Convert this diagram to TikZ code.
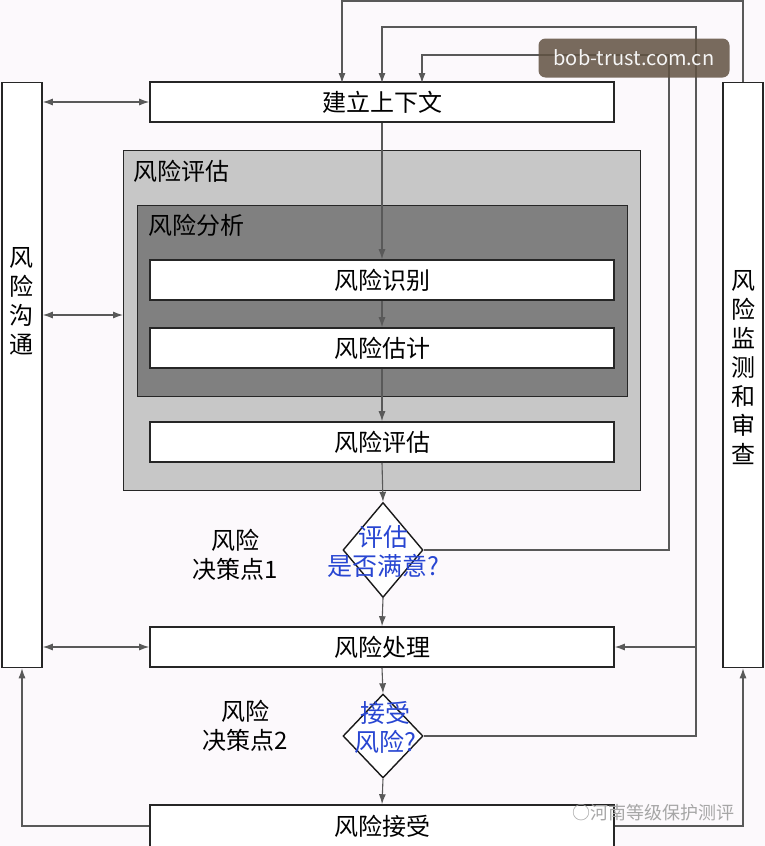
\documentclass[tikz,border=0pt]{standalone}
\usepackage{fontspec}
\setmainfont{Noto Sans CJK SC}
\usetikzlibrary{shapes.geometric,arrows.meta}
\begin{document}
\begin{tikzpicture}[x=1pt,y=-1pt,
  box/.style={draw=black!85,line width=1.6pt,fill=white,minimum width=464pt,minimum height=40pt,font=\fontsize{24}{26}\selectfont,inner sep=0pt},
  vbox/.style={draw=black!85,line width=1.6pt,fill=white,minimum width=40pt,minimum height=585pt,inner sep=0pt},
  dia/.style={diamond,draw=black!90,line width=1.4pt,fill=white,minimum width=80pt,minimum height=95pt,inner sep=0pt},
  ln/.style={draw=black!65,line width=1.1pt},
  arr/.style={ln,-{Latex[length=10pt,width=7pt]}},
  darr/.style={ln,{Latex[length=10pt,width=7pt]}-{Latex[length=10pt,width=7pt]}},
  lab/.style={font=\fontsize{24}{29}\selectfont,align=center},
  blue/.style={text={rgb,255:red,40;green,70;blue,210},font=\fontsize{25}{29}\selectfont,align=center}]
\fill[fill={rgb,255:red,252;green,249;blue,252}] (0,0) rectangle (765,846);
\useasboundingbox (0,0) rectangle (765,846);
% assessment frames
\node[draw=black!85,line width=1.4pt,fill=black!22,minimum width=517pt,minimum height=340pt,anchor=north west,inner sep=0pt] (ra) at (123,150) {};
\node[anchor=north west,font=\fontsize{24}{26}\selectfont] at (130,157) {风险评估};
\node[draw=black!85,line width=1.4pt,fill=black!50,minimum width=490pt,minimum height=191pt,anchor=north west,inner sep=0pt] (an) at (137,205) {};
\node[anchor=north west,font=\fontsize{24}{26}\selectfont] at (145,211) {风险分析};
% boxes
\node[box] (ctx) at (382,102) {建立上下文};
\node[box] (id) at (382,280) {风险识别};
\node[box] (est) at (382,348) {风险估计};
\node[box] (ev) at (382,442) {风险评估};
\node[box] (tr) at (382,647) {风险处理};
\node[box,minimum height=42pt] (acc) at (382,826) {风险接受};
\node[vbox] (com) at (22,375) {};
\node[lab,text width=26pt] at (22,301) {风\\险\\沟\\通};
\node[vbox] (mon) at (743,375) {};
\node[lab,text width=26pt] at (743,368) {风\\险\\监\\测\\和\\审\\查};
\node[dia] (d1) at (383,550) {};
\node[blue] at (383,552) {评估\\是否满意?};
\node[dia,minimum height=84pt] (d2) at (383,736) {};
\node[blue] at (385,727) {接受\\风险?};
\node[lab] at (235,555) {风险\\决策点1};
\node[lab] at (245,726) {风险\\决策点2};
% central flow
\draw[arr] (ctx.south) -- (id.north);
\draw[arr] (id.south) -- (est.north);
\draw[arr] (est.south) -- (ev.north);
\draw[arr] (ev.south) -- (d1.north);
\draw[arr] (d1.south) -- (tr.north);
\draw[arr] (tr.south) -- (d2.north);
\draw[arr] (d2.south) -- (acc.north);
% feedback loops
\coordinate (c1) at (422,83);
\coordinate (c2) at (382,83);
\coordinate (c3) at (342,83);
\draw[arr] (d1.east) -| (669,55) -| (c1);
\draw[arr] (d2.east) -| (696,27) -| (c2);
\draw[arr] (696,647) -- (tr.east);
\draw[arr] (mon.north) |- (342,1) -- (c3);
\draw[arr] (acc.east) -| (mon.south);
\draw[arr] (acc.west) -| (com.south);
% communication arrows
\draw[darr] (com.east |- ctx) -- (ctx.west);
\draw[darr] (com.east |- 0,315) -- (ra.west |- 0,315);
\draw[darr] (com.east |- tr) -- (tr.west);
% watermarks
\node[fill=black!60!brown!60!gray,fill opacity=0.85,text opacity=1,rounded corners=7pt,minimum width=191pt,minimum height=39pt,text=white!92!gray,font=\fontsize{20}{21}\selectfont] (wm) at (634,58) {bob-trust.com.cn};
\node[text=black!35,font=\fontsize{18}{20}\selectfont] (wm2) at (653,813) {\symbol{"25CB}河南等级保护测评};
\end{tikzpicture}
\end{document}
